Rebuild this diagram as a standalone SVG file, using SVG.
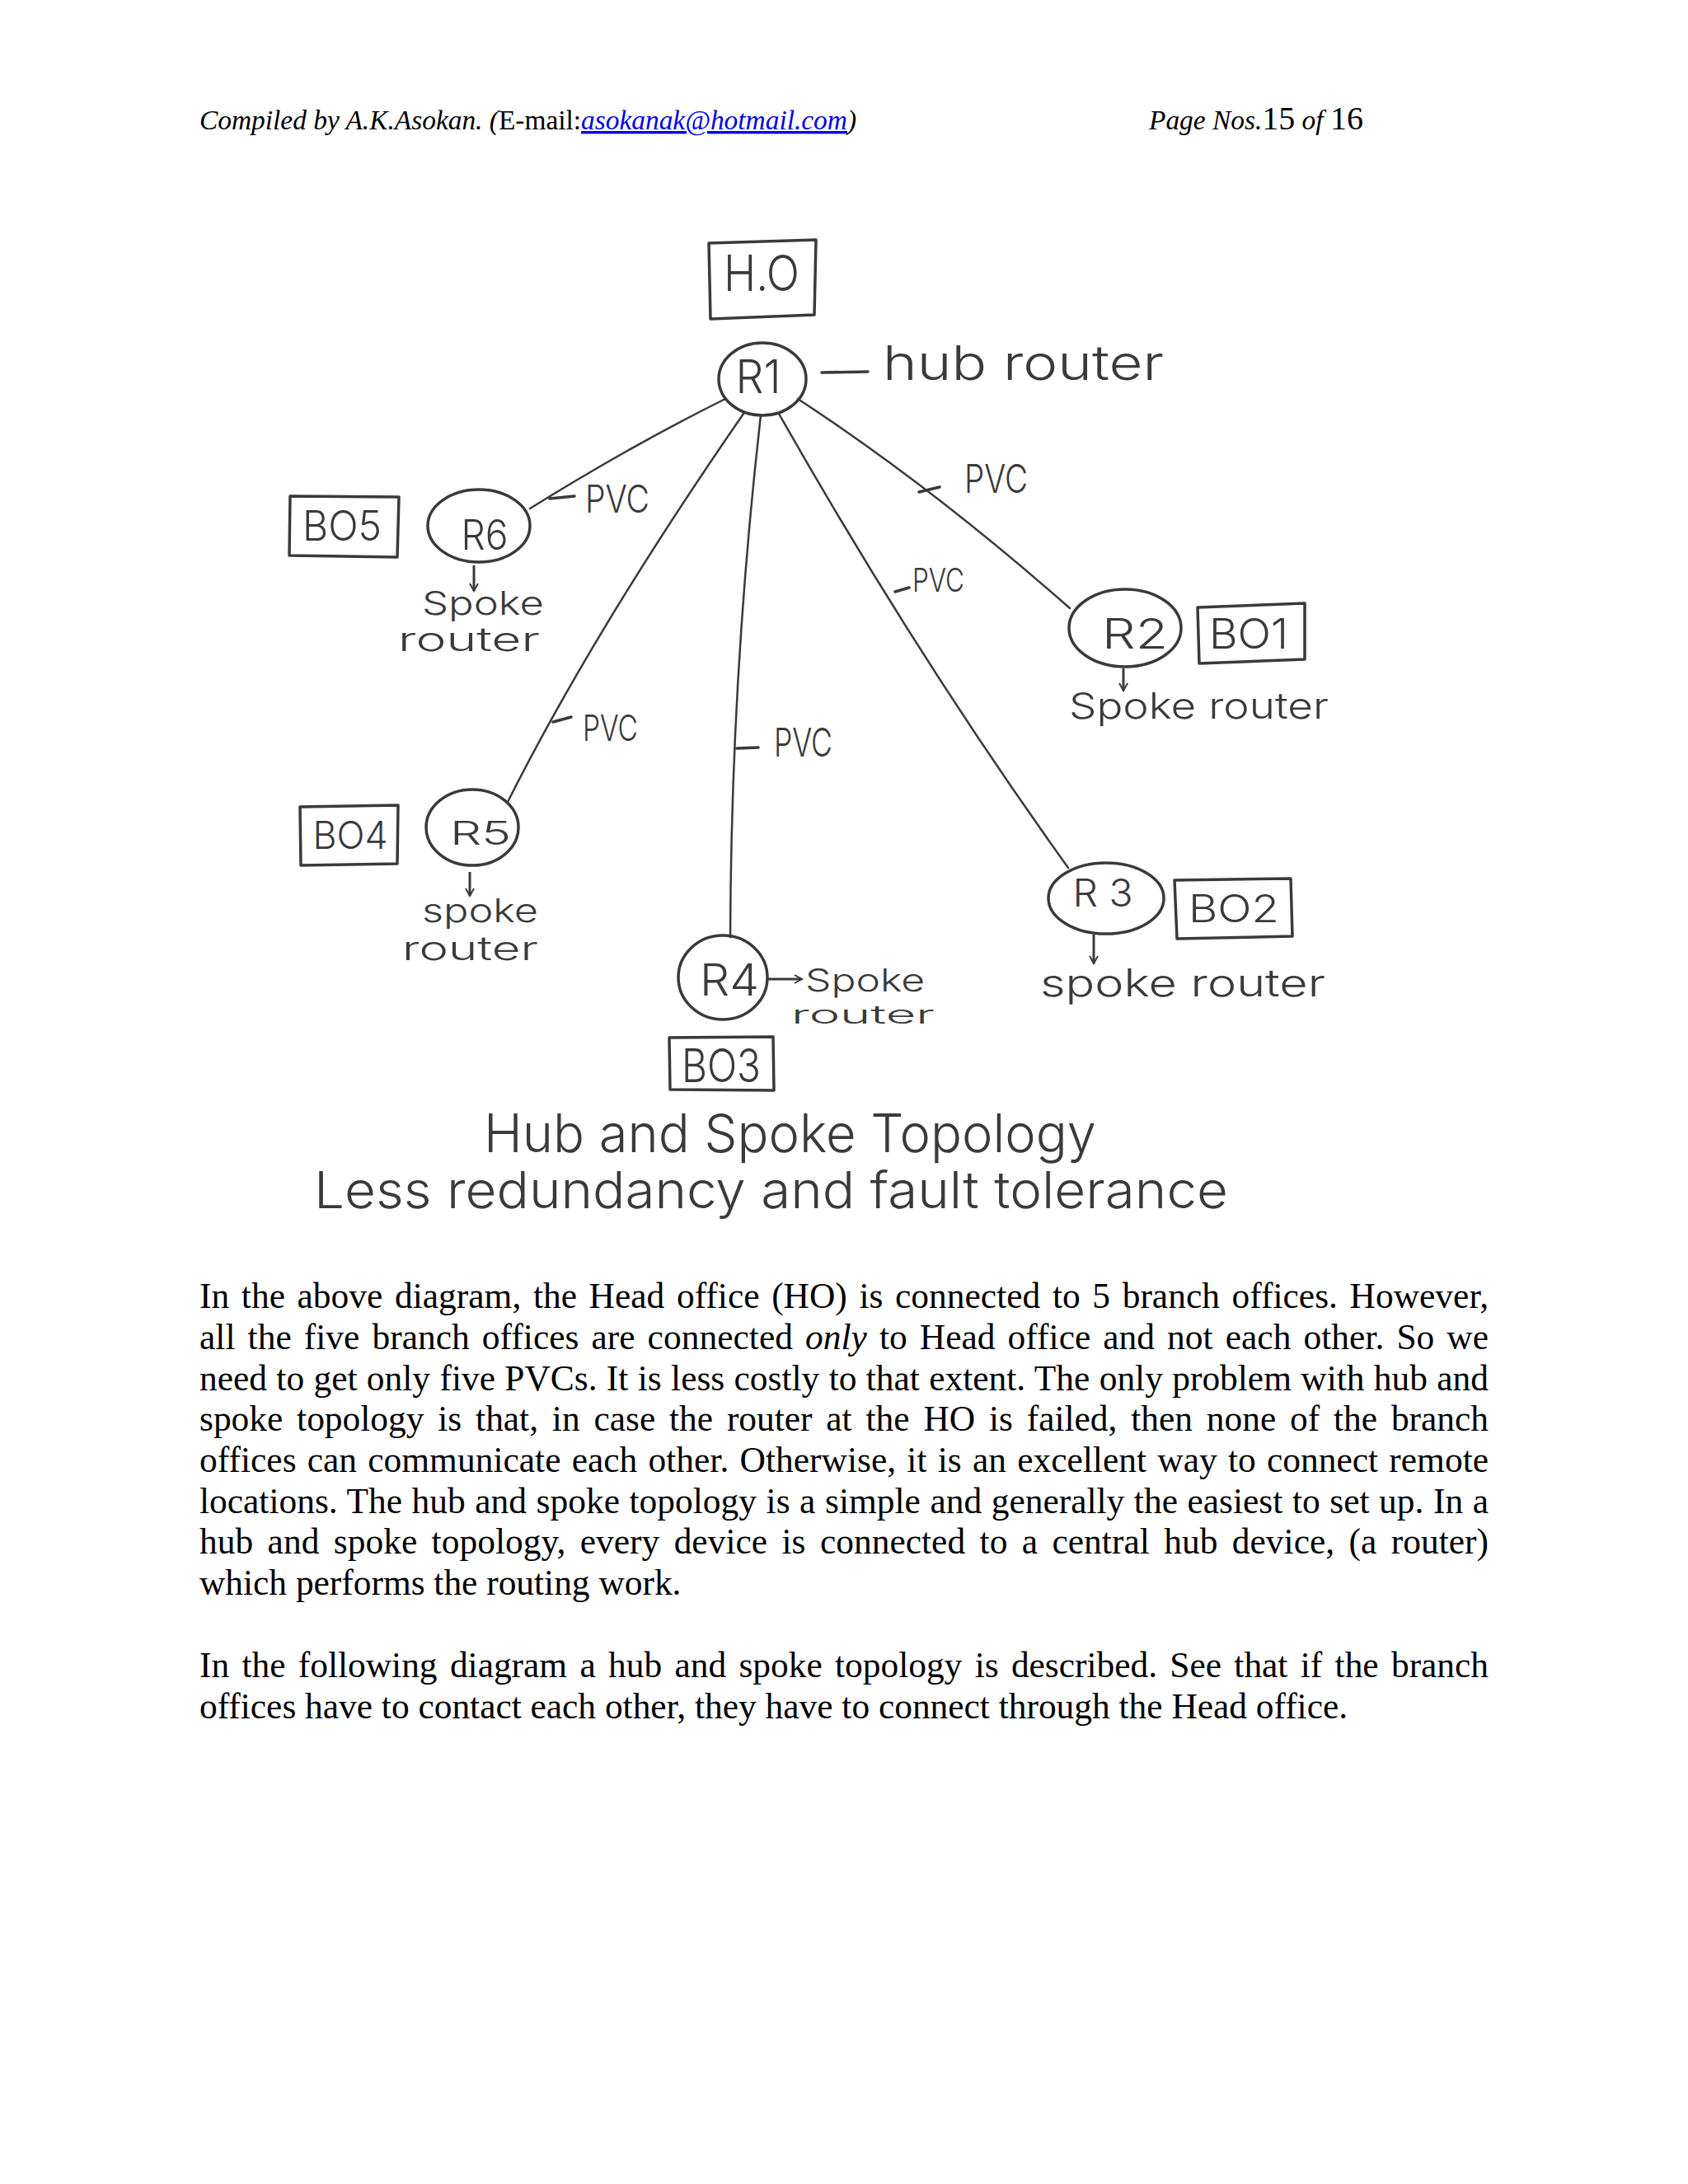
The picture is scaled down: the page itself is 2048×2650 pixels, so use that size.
<svg xmlns="http://www.w3.org/2000/svg" width="2048" height="2650" viewBox="0 0 2048 2650">
<style>
.hw{font-family:"Inter","Open Sans","Liberation Sans",sans-serif;font-weight:300;fill:#3a3a3a}
.shape{fill:none;stroke:#3a3a3a;stroke-width:3.5;stroke-linejoin:round;stroke-linecap:round}
.conn{fill:none;stroke:#3a3a3a;stroke-width:2.5;stroke-linecap:round}
.lead{fill:none;stroke:#3a3a3a;stroke-width:3.5;stroke-linecap:round}
.arr{fill:none;stroke:#3a3a3a;stroke-width:3;marker-end:url(#vhead)}
.body{font-family:"Liberation Serif","Times New Roman",serif;font-size:43.4px;fill:#000}
.hdr{font-family:"Liberation Serif","Times New Roman",serif;font-size:33.4px;fill:#000}
.it{font-style:italic}
</style>
<defs>
<marker id="vhead" viewBox="0 0 12 12" refX="10" refY="6" markerWidth="12" markerHeight="12" markerUnits="userSpaceOnUse" orient="auto">
<path d="M1 1 L10 6 L1 11" fill="none" stroke="#3a3a3a" stroke-width="2"/>
</marker>
</defs>
<rect x="0" y="0" width="2048" height="2650" fill="#fff"/>

<g id="header">
<text class="hdr" x="242" y="157"><tspan class="it">Compiled by A.K.Asokan. (</tspan>E-mail:<tspan class="it" fill="#0000ee" text-decoration="underline">asokanak@hotmail.com</tspan><tspan class="it">)</tspan></text>
<text class="hdr" x="1394" y="157"><tspan class="it">Page Nos.</tspan><tspan font-size="40">15</tspan><tspan class="it"> of </tspan><tspan font-size="40">16</tspan></text>
</g>

<g id="connectors">
<path class="conn" d="M880 484 Q767 540 643 617"/>
<path class="conn" d="M902 502 Q721 764 616 973"/>
<path class="conn" d="M923 504 Q887 820 886 1137"/>
<path class="conn" d="M945 502 Q1111 795 1296 1053"/>
<path class="conn" d="M968 484 Q1130 590 1298 738"/>
</g>

<g id="HO">
<path class="shape" d="M860 295 L990 291 L988 382 L862 387 Z"/>
<text class="hw" x="924" y="353" font-size="60" text-anchor="middle" textLength="92" lengthAdjust="spacingAndGlyphs">H.O</text>
</g>

<g id="R1">
<ellipse class="shape" cx="925" cy="460" rx="53" ry="44"/>
<text class="hw" x="920" y="477" font-size="56" text-anchor="middle" textLength="55" lengthAdjust="spacingAndGlyphs">R1</text>
<path class="lead" d="M997 452 L1053 451"/>
<text class="hw" x="1071" y="461" font-size="58" textLength="341" lengthAdjust="spacingAndGlyphs">hub router</text>
</g>

<g id="R6">
<ellipse class="shape" cx="581" cy="638" rx="62" ry="44"/>
<text class="hw" x="588" y="667" font-size="50" text-anchor="middle" textLength="57" lengthAdjust="spacingAndGlyphs">R6</text>
<path class="arr" d="M575 686 L575 717"/>
<text class="hw" x="512" y="746" font-size="40" textLength="148" lengthAdjust="spacingAndGlyphs">Spoke</text>
<text class="hw" x="483" y="790" font-size="40" textLength="172" lengthAdjust="spacingAndGlyphs">router</text>
</g>
<g id="BO5">
<path class="shape" d="M352 602 L484 603 L482 676 L351 674 Z"/>
<text class="hw" x="415" y="656" font-size="50" text-anchor="middle" textLength="96" lengthAdjust="spacingAndGlyphs">BO5</text>
</g>

<g id="R2">
<ellipse class="shape" cx="1365" cy="762" rx="68" ry="47"/>
<text class="hw" x="1377" y="787" font-size="50" text-anchor="middle" textLength="80" lengthAdjust="spacingAndGlyphs">R2</text>
<path class="arr" d="M1363 811 L1363 838"/>
<text class="hw" x="1297" y="872" font-size="44" textLength="315" lengthAdjust="spacingAndGlyphs">Spoke router</text>
</g>
<g id="BO1">
<path class="shape" d="M1453 737 L1583 732 L1583 800 L1455 805 Z"/>
<text class="hw" x="1515" y="787" font-size="50" text-anchor="middle" textLength="96" lengthAdjust="spacingAndGlyphs">BO1</text>
</g>

<g id="R3">
<ellipse class="shape" cx="1342" cy="1090" rx="70" ry="43"/>
<text class="hw" x="1338" y="1100" font-size="46" text-anchor="middle" textLength="73" lengthAdjust="spacingAndGlyphs">R 3</text>
<path class="arr" d="M1327 1134 L1327 1169"/>
<text class="hw" x="1262" y="1209" font-size="46" textLength="346" lengthAdjust="spacingAndGlyphs">spoke router</text>
</g>
<g id="BO2">
<path class="shape" d="M1425 1068 L1566 1066 L1568 1136 L1428 1139 Z"/>
<text class="hw" x="1497" y="1119" font-size="46" text-anchor="middle" textLength="110" lengthAdjust="spacingAndGlyphs">BO2</text>
</g>

<g id="R4">
<ellipse class="shape" cx="877" cy="1186" rx="54" ry="51"/>
<text class="hw" x="885" y="1208" font-size="54" text-anchor="middle" textLength="72" lengthAdjust="spacingAndGlyphs">R4</text>
<path class="arr" d="M931 1188 L973 1188"/>
<text class="hw" x="977" y="1203" font-size="38" textLength="145" lengthAdjust="spacingAndGlyphs">Spoke</text>
<text class="hw" x="960" y="1242" font-size="30" textLength="174" lengthAdjust="spacingAndGlyphs">router</text>
</g>
<g id="BO3">
<path class="shape" d="M812 1259 L938 1258 L939 1323 L813 1322 Z"/>
<text class="hw" x="875" y="1313" font-size="56" text-anchor="middle" textLength="96" lengthAdjust="spacingAndGlyphs">BO3</text>
</g>

<g id="R5">
<ellipse class="shape" cx="573" cy="1004" rx="56" ry="46"/>
<text class="hw" x="583" y="1025" font-size="40" text-anchor="middle" textLength="74" lengthAdjust="spacingAndGlyphs">R5</text>
<path class="arr" d="M570 1058 L570 1087"/>
<text class="hw" x="512" y="1119" font-size="40" textLength="141" lengthAdjust="spacingAndGlyphs">spoke</text>
<text class="hw" x="488" y="1165" font-size="40" textLength="165" lengthAdjust="spacingAndGlyphs">router</text>
</g>
<g id="BO4">
<path class="shape" d="M364 979 L483 977 L482 1048 L365 1050 Z"/>
<text class="hw" x="425" y="1030" font-size="46" text-anchor="middle" textLength="91" lengthAdjust="spacingAndGlyphs">BO4</text>
</g>

<g id="pvc-labels">
<path class="lead" d="M667 605 L697 602"/>
<text class="hw" x="710" y="622" font-size="46" textLength="78" lengthAdjust="spacingAndGlyphs">PVC</text>
<path class="lead" d="M1115 597 L1140 591"/>
<text class="hw" x="1170" y="598" font-size="48" textLength="77" lengthAdjust="spacingAndGlyphs">PVC</text>
<path class="lead" d="M1086 718 L1103 713"/>
<text class="hw" x="1107" y="718" font-size="40" textLength="63" lengthAdjust="spacingAndGlyphs">PVC</text>
<path class="lead" d="M671 876 L693 870"/>
<text class="hw" x="707" y="899" font-size="44" textLength="67" lengthAdjust="spacingAndGlyphs">PVC</text>
<path class="lead" d="M894 908 L920 907"/>
<text class="hw" x="939" y="918" font-size="48" textLength="71" lengthAdjust="spacingAndGlyphs">PVC</text>
</g>

<g id="caption">
<text class="hw" x="587" y="1398" font-size="64" textLength="743" lengthAdjust="spacingAndGlyphs">Hub and Spoke Topology</text>
<text class="hw" x="381" y="1466" font-size="62" textLength="1109" lengthAdjust="spacingAndGlyphs">Less redundancy and fault tolerance</text>
</g>

<g id="body-text">
<text class="body" x="242" y="1587" word-spacing="3.7" textLength="1564">In the above diagram, the Head office (HO) is connected to 5 branch offices. However,</text>
<text class="body" x="242" y="1637" word-spacing="4.1" textLength="1564">all the five branch offices are connected <tspan class="it">only</tspan> to Head office and not each other. So we</text>
<text class="body" x="242" y="1686.5" word-spacing="0.5" textLength="1564">need to get only five PVCs. It is less costly to that extent. The only problem with hub and</text>
<text class="body" x="242" y="1736" word-spacing="6" textLength="1564">spoke topology is that, in case the router at the HO is failed, then none of the branch</text>
<text class="body" x="242" y="1786" word-spacing="2.3" textLength="1564">offices can communicate each other. Otherwise, it is an excellent way to connect remote</text>
<text class="body" x="242" y="1835.5" word-spacing="0.7" textLength="1564">locations. The hub and spoke topology is a simple and generally the easiest to set up. In a</text>
<text class="body" x="242" y="1885" word-spacing="6.5" textLength="1564">hub and spoke topology, every device is connected to a central hub device, (a router)</text>
<text class="body" x="242" y="1935">which performs the routing work.</text>
<text class="body" x="242" y="2035" word-spacing="4.5" textLength="1564">In the following diagram a hub and spoke topology is described. See that if the branch</text>
<text class="body" x="242" y="2085">offices have to contact each other, they have to connect through the Head office.</text>
</g>
</svg>
